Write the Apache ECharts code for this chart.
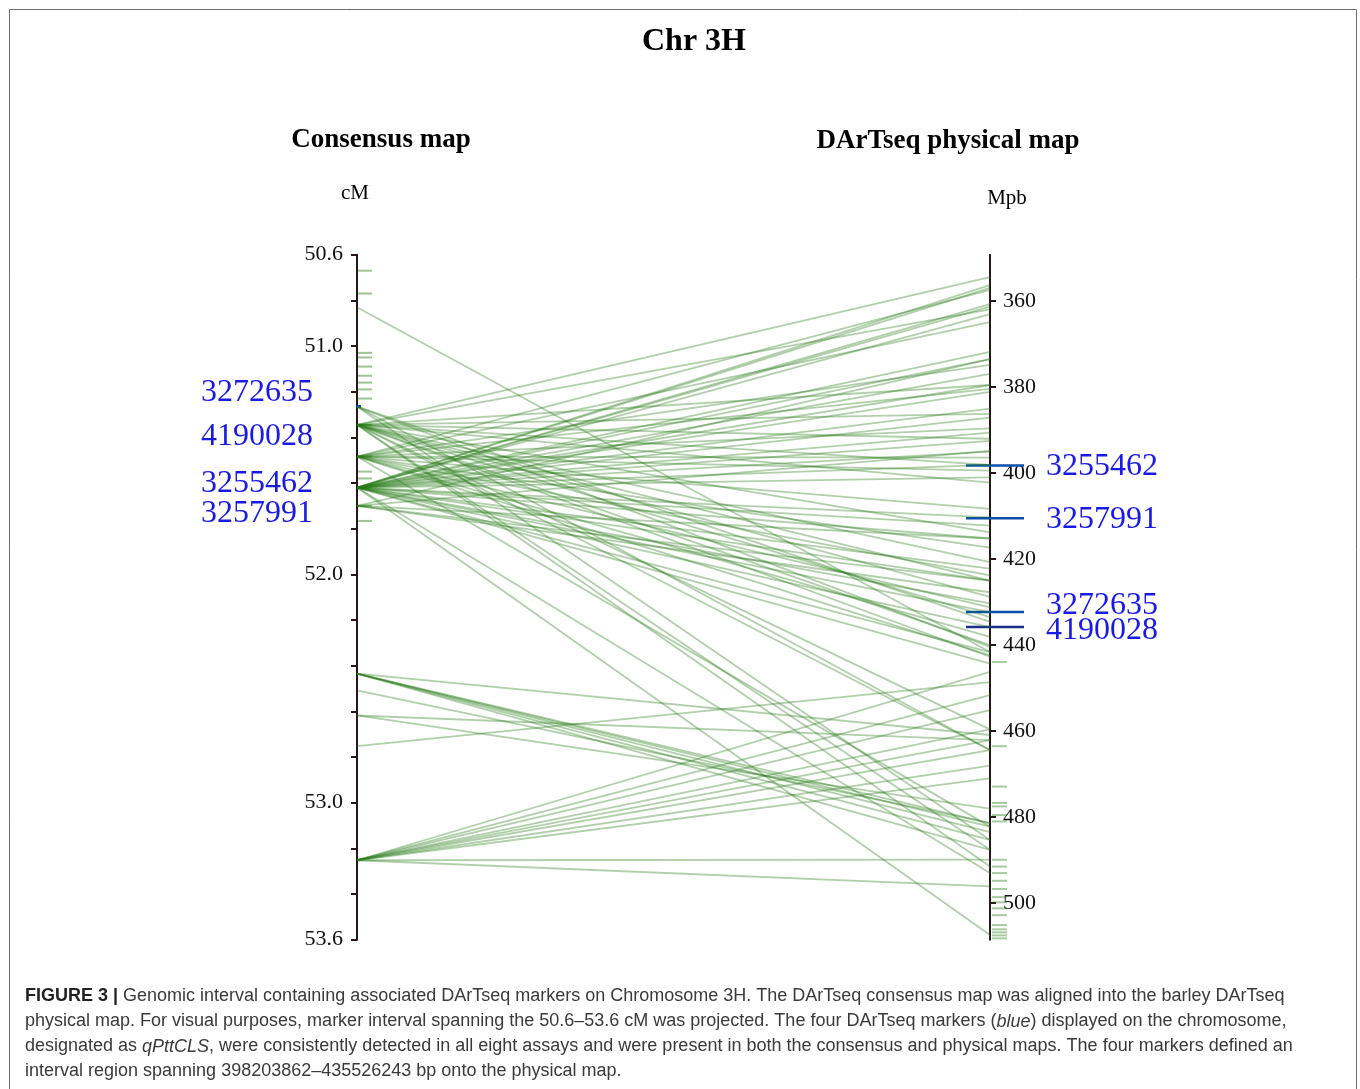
<!DOCTYPE html>
<html>
<head>
<meta charset="utf-8">
<title>Chr 3H</title>
<script src="https://cdn.jsdelivr.net/npm/echarts@6/dist/echarts.min.js"></script>
<style>
  html, body { margin: 0; padding: 0; background: #fff; }
  #chart { width: 1360px; height: 1089px; }
</style>
</head>
<body>
<div id="chart"></div>
<script>
// labelled ticks of the two maps
const cmLabels = [50.6, 51.0, 52.0, 53.0, 53.6]
const mbLabels = [360, 380, 400, 420, 440, 460, 480, 500]

// consensus map positions (cM) that are linked to the physical map
const linkCm = [50.83, 51.265, 51.345, 51.484, 51.62, 51.70, 52.435, 52.508, 52.618, 52.752, 53.252]
// physical positions (Mbp) each one is linked to
const linkMb = [
  [441.6],
  [434.6, 440.4, 485.3, 464.4],
  [354.4, 361.9, 379.5, 386.2, 392.0, 398.1, 402.2, 413.8, 420.7, 425.0, 428.8, 433.5, 440.0, 442.7, 459.6, 464.4, 487.6, 491.5],
  [357.4, 364.9, 374.8, 380.4, 389.6, 396.4, 399.4, 408.3, 417.3, 423.8, 431.2, 438.1, 442.4, 482.2],
  [356.3, 356.9, 360.7, 361.3, 363.0, 371.8, 373.5, 376.9, 379.5, 381.1, 385.0, 387.1, 390.6, 392.5, 395.0, 398.1,
    401.0, 410.3, 412.2, 415.2, 422.2, 425.0, 430.3, 432.3, 435.8, 441.6, 444.3, 493.0, 507.4],
  [373.5, 394.8, 415.2, 425.0, 427.7],
  [460.9, 481.4, 482.2, 483.5, 485.3, 487.6],
  [481.4],
  [462.1, 478.0],
  [448.6],
  [446.2, 451.6, 455.1, 459.6, 462.1, 464.4, 468.0, 471.0, 489.9, 496.1]
]

// markers placed on one map only (short dashes)
const cmMarkers = [50.67, 50.77, 51.03, 51.05, 51.09, 51.13, 51.16, 51.19, 51.23, 51.345, 51.484, 51.55, 51.58, 51.62, 51.70, 51.766]
const mbMarkers = [443.9, 463.5, 472.9, 476.7, 477.5, 479.5, 481.0, 489.9, 491.5, 493.0, 494.8, 496.7, 498.6,
  499.8, 501.2, 502.8, 505.1, 506.1, 506.8, 507.5, 508.2]

// the four qPttCLS markers
const qtlCm = [51.265]
const qtlMbNames = ['3255462', '3257991', '3272635', '4190028']
const qtlMb = [398.2, 410.5, 432.3, 435.8]
const qtlCmNames = ['3272635', '4190028', '3255462', '3257991']

const links = []
linkCm.forEach((cm, i) => {
  linkMb[i].forEach(mb => links.push([cm, mb]))
})

const serif = "'Liberation Serif', 'DejaVu Serif', serif"
const sans = "'Liberation Sans', Arial, sans-serif"
const axisColor = '#2a1618'
const box = {left: 357, right: 370, top: 254.7, bottom: 149.3}

function dash (x0, x1, color, width) {
  return function (params, api) {
    const p = api.coord([api.value(0), api.value(1)])
    return {
      type: 'line',
      shape: {x1: p[0] + x0, y1: p[1], x2: p[0] + x1, y2: p[1]},
      style: {stroke: color, lineWidth: width}
    }
  }
}

function blueText (x, y, text, align) {
  return {type: 'text', x: x, y: y, silent: true, style: {text: text, font: '32px ' + serif, fill: '#1a1ae6', textAlign: align, textVerticalAlign: 'middle'}}
}

// hidden axes of the parallel system, only used to place the links
const hiddenAxis = {
  axisLine: {show: false},
  axisTick: {show: false},
  axisLabel: {show: false, formatter: () => '', color: 'rgba(0,0,0,0)'},
  splitLine: {show: false}
}

const labelShift = [1, 1, -6, 4] // keeps the two close labels apart

const chart = echarts.init(document.getElementById('chart'))
chart.setOption({
  animation: false,
  graphic: [
    {type: 'rect', shape: {x: 9.5, y: 9.5, width: 1347, height: 1100}, style: {fill: 'none', stroke: '#6e6e6e', lineWidth: 1}, silent: true},
    {type: 'text', x: 694, y: 42, style: {text: 'Chr 3H', font: 'bold 32px ' + serif, fill: '#000', textAlign: 'center', textVerticalAlign: 'middle'}},
    {type: 'text', x: 381, y: 140, style: {text: 'Consensus map', font: 'bold 27px ' + serif, fill: '#000', textAlign: 'center', textVerticalAlign: 'middle'}},
    {type: 'text', x: 948, y: 141, style: {text: 'DArTseq physical map', font: 'bold 27px ' + serif, fill: '#000', textAlign: 'center', textVerticalAlign: 'middle'}},
    {type: 'text', x: 355, y: 193, style: {text: 'cM', font: '21px ' + serif, fill: '#000', textAlign: 'center', textVerticalAlign: 'middle'}},
    {type: 'text', x: 1007, y: 198, style: {text: 'Mpb', font: '21px ' + serif, fill: '#000', textAlign: 'center', textVerticalAlign: 'middle'}},
    blueText(313, 393, qtlCmNames[0], 'right'),
    blueText(313, 437, qtlCmNames[1], 'right'),
    blueText(313, 484, qtlCmNames[2], 'right'),
    blueText(313, 514, qtlCmNames[3], 'right'),
    {
      type: 'text', x: 25, y: 984,
      style: {
        text: '{b|FIGURE 3 |} Genomic interval containing associated DArTseq markers on Chromosome 3H. The DArTseq consensus map was aligned into the barley DArTseq\n' +
          'physical map. For visual purposes, marker interval spanning the 50.6–53.6 cM was projected. The four DArTseq markers ({i|blue}) displayed on the chromosome,\n' +
          'designated as {i|qPttCLS}, were consistently detected in all eight assays and were present in both the consensus and physical maps. The four markers defined an\n' +
          'interval region spanning 398203862–435526243 bp onto the physical map.',
        font: '18px ' + sans,
        fill: '#3a3a3a',
        lineHeight: 25,
        rich: {
          b: {fontWeight: 'bold', fontSize: 18, fontFamily: sans, fill: '#222', lineHeight: 25},
          i: {fontStyle: 'italic', fontSize: 18, fontFamily: sans, fill: '#3a3a3a', lineHeight: 25}
        }
      }
    }
  ],
  parallel: Object.assign({layout: 'horizontal', parallelAxisDefault: hiddenAxis}, box),
  parallelAxis: [
    Object.assign({dim: 0, type: 'value', min: 50.6, max: 53.6, inverse: true}, hiddenAxis),
    Object.assign({dim: 1, type: 'value', min: 349.2, max: 508.5, inverse: true}, hiddenAxis)
  ],
  grid: box,
  xAxis: {type: 'value', min: 0, max: 1, show: false},
  yAxis: [
    {
      type: 'value', position: 'left', min: 50.6, max: 53.6, interval: 0.2, inverse: true,
      axisLine: {show: true, lineStyle: {color: axisColor, width: 2}},
      axisTick: {show: true, length: 6, lineStyle: {color: axisColor, width: 2}},
      axisLabel: {customValues: cmLabels, formatter: v => v.toFixed(1), margin: 14, fontFamily: serif, fontSize: 22, color: '#111'},
      splitLine: {show: false}
    },
    {
      type: 'value', position: 'right', min: 349.2, max: 508.5, inverse: true,
      axisLine: {show: true, lineStyle: {color: axisColor, width: 2}},
      axisTick: {show: true, length: 6, customValues: mbLabels, lineStyle: {color: axisColor, width: 2}},
      axisLabel: {customValues: mbLabels, margin: 13, fontFamily: serif, fontSize: 22, color: '#111'},
      splitLine: {show: false}
    }
  ],
  series: [
    {
      type: 'parallel',
      data: links,
      silent: true,
      lineStyle: {color: 'rgb(38,122,22)', width: 1.8, opacity: 0.36}
    },
    {
      type: 'custom', xAxisIndex: 0, yAxisIndex: 0, silent: true, clip: false,
      data: cmMarkers.map(v => [0, v]),
      renderItem: dash(1, 15, 'rgba(38,122,22,0.45)', 2)
    },
    {
      type: 'custom', xAxisIndex: 0, yAxisIndex: 1, silent: true, clip: false,
      data: mbMarkers.map(v => [1, v]),
      renderItem: dash(2, 17, 'rgba(38,122,22,0.4)', 2)
    },
    {
      type: 'custom', xAxisIndex: 0, yAxisIndex: 0, silent: true, clip: false,
      data: qtlCm.map(v => [0, v]),
      renderItem: dash(-1, 4, '#1040c0', 3)
    },
    {
      type: 'custom', xAxisIndex: 0, yAxisIndex: 1, silent: true, clip: false,
      data: qtlMb.map(v => [1, v]),
      renderItem: function (params, api) {
        const p = api.coord([api.value(0), api.value(1)])
        const i = params.dataIndex
        return {
          type: 'group',
          children: [
            {type: 'line', shape: {x1: p[0] - 24, y1: p[1], x2: p[0] + 34, y2: p[1]}, style: {stroke: i === 3 ? '#1c2f86' : '#0a4fae', lineWidth: 2.5}},
            blueText(p[0] + 56, p[1] + labelShift[i], qtlMbNames[i], 'left')
          ]
        }
      }
    }
  ]
})
</script>
</body>
</html>
